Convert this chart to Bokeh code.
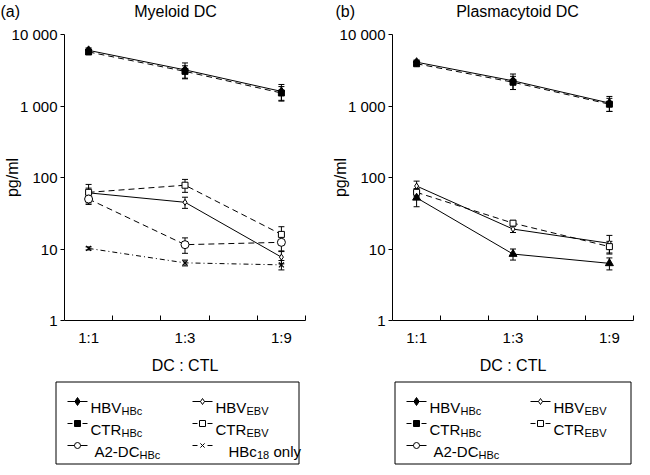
from bokeh.plotting import figure
from bokeh.models import Range1d, FixedTicker, Whisker, TeeHead, ColumnDataSource
from bokeh.layouts import row, column
from bokeh.embed import file_html
from bokeh.resources import INLINE
from bokeh.core.properties import value

FONT = "Liberation Sans"

# ---------------- data ----------------
ratios = ["1:1", "1:3", "1:9"]
y_ticks = [1, 10, 100, 1000, 10000]
y_tick_labels = ["1", "10", "100", "1 000", "10 000"]
panel_titles = ["Myeloid DC", "Plasmacytoid DC"]
panel_tags = ["(a)", "(b)"]

# (a) Myeloid DC
a_hbv_hbc = [6000, 3200, 1600]
a_hbv_hbc_err = [500, 800, 400]
a_ctr_hbc = [5700, 3050, 1520]
a_ctr_hbc_err = [400, 600, 350]
a_hbv_ebv = [61, 45, 7.7]
a_hbv_ebv_err = [10, 8, 1.5]
a_ctr_ebv = [62, 78, 16]
a_ctr_ebv_err = [18, 16, 4.5]
a_a2dc_hbc = [50, 11.5, 12.4]
a_a2dc_hbc_err = [8, 2.8, 3]
a_hbc18_only = [10.2, 6.4, 6.0]
a_hbc18_only_err = [0.5, 0.6, 0.9]

# (b) Plasmacytoid DC
b_hbv_hbc = [4100, 2250, 1100]
b_hbv_hbc_err = [300, 550, 260]
b_ctr_hbc = [3900, 2150, 1060]
b_ctr_hbc_err = [250, 450, 220]
b_hbv_ebv = [76, 19, 12]
b_hbv_ebv_err = [13, 2, 3.5]
b_ctr_ebv = [62, 23, 10.8]
b_ctr_ebv_err = [8, 2, 2]
b_a2dc_hbc = [52, 8.5, 6.3]
b_a2dc_hbc_err = [13, 1.5, 1.2]

# ---------------- styles ----------------
SOLID, DASH, DASHDOT = "solid", "6 4", "5 3 1 3"
xpos = [2 * i + 0.5 for i in range(len(ratios))]
minor = [1, 2, 3, 4, 5]

series_a = [
    (a_hbv_hbc, a_hbv_hbc_err, SOLID, "diamond", "black", 9),
    (a_ctr_hbc, a_ctr_hbc_err, DASH, "square", "black", 6),
    (a_hbv_ebv, a_hbv_ebv_err, SOLID, "diamond", "white", 6),
    (a_ctr_ebv, a_ctr_ebv_err, DASH, "square", "white", 6),
    (a_a2dc_hbc, a_a2dc_hbc_err, DASH, "circle", "white", 8),
    (a_hbc18_only, a_hbc18_only_err, DASHDOT, "x", "black", 7),
]
series_b = [
    (b_hbv_hbc, b_hbv_hbc_err, SOLID, "diamond", "black", 9),
    (b_ctr_hbc, b_ctr_hbc_err, DASH, "square", "black", 6),
    (b_hbv_ebv, b_hbv_ebv_err, SOLID, "diamond", "white", 6),
    (b_ctr_ebv, b_ctr_ebv_err, DASH, "square", "white", 6),
    (b_a2dc_hbc, b_a2dc_hbc_err, SOLID, "triangle", "black", 8),
]

TOTAL_W = 634
STRIP_H = 24
MAIN_H = 352
LEG_H = 90


def make_panel(series, width, bl, br):
    p = figure(width=width, height=MAIN_H, y_axis_type="log",
               x_range=Range1d(0, 5), y_range=Range1d(1, 10000),
               output_backend="svg", toolbar_location=None, title=None,
               min_border_left=bl, min_border_right=br,
               min_border_top=10, min_border_bottom=55)
    p.outline_line_color = None
    p.grid.visible = False

    xa = p.xaxis[0]
    xa.ticker = FixedTicker(ticks=xpos, minor_ticks=minor)
    xa.major_label_overrides = {x: r for x, r in zip(xpos, ratios)}
    xa.major_tick_in = 0
    xa.major_tick_out = 0
    xa.minor_tick_in = 5
    xa.minor_tick_out = 0
    xa.major_label_standoff = 8
    xa.major_label_text_font = FONT
    xa.major_label_text_font_size = "15px"
    xa.major_label_text_color = "black"
    xa.axis_label = "DC : CTL"
    xa.axis_label_standoff = 8
    xa.axis_label_text_font = FONT
    xa.axis_label_text_font_size = "16px"
    xa.axis_label_text_font_style = "normal"
    xa.axis_label_text_color = "black"
    xa.axis_line_color = "black"
    xa.minor_tick_line_color = "black"

    ya = p.yaxis[0]
    ya.ticker = FixedTicker(ticks=y_ticks, minor_ticks=[])
    ya.major_label_overrides = dict(zip(y_ticks, y_tick_labels))
    ya.major_tick_in = 0
    ya.major_tick_out = 4
    ya.minor_tick_in = 0
    ya.minor_tick_out = 0
    ya.major_label_standoff = 3
    ya.major_label_text_font = FONT
    ya.major_label_text_font_size = "15px"
    ya.major_label_text_color = "black"
    ya.axis_line_color = "black"
    ya.major_tick_line_color = "black"
    ya.axis_label = "pg/ml"
    ya.axis_label_standoff = -12
    ya.axis_label_text_font = FONT
    ya.axis_label_text_font_size = "16px"
    ya.axis_label_text_font_style = "normal"
    ya.axis_label_text_color = "black"

    for vals, errs, dash, marker, fill, size in series:
        src = ColumnDataSource(dict(base=xpos,
                                    upper=[v + e for v, e in zip(vals, errs)],
                                    lower=[v - e for v, e in zip(vals, errs)]))
        p.add_layout(Whisker(source=src, base="base", upper="upper", lower="lower",
                             line_color="black", line_width=1,
                             upper_head=TeeHead(size=6, line_color="black", line_width=1),
                             lower_head=TeeHead(size=6, line_color="black", line_width=1)))
    for vals, errs, dash, marker, fill, size in series:
        p.line(xpos, vals, line_color="black", line_width=1, line_dash=dash)
    for vals, errs, dash, marker, fill, size in series:
        p.scatter(xpos, vals, marker=marker, size=size, fill_color=fill,
                  line_color="black", line_width=1.2 if marker == "x" else 1)
    return p


def blank(width, height):
    f = figure(width=width, height=height, x_range=Range1d(0, width), y_range=Range1d(0, height),
               output_backend="svg", toolbar_location=None, title=None,
               x_axis_location=None, y_axis_location=None,
               min_border=0, min_border_left=0, min_border_right=0,
               min_border_top=0, min_border_bottom=0)
    f.outline_line_color = None
    f.grid.visible = False
    return f


# ---- top strip with panel tags and titles ----
strip = blank(TOTAL_W, STRIP_H)
strip.text([0, 335], [13, 13], text=panel_tags, text_font=value(FONT), text_font_size="16px",
           text_align="left", text_baseline="middle", text_color="black")
strip.text([175, 517], [13, 13], text=panel_titles, text_font=value(FONT), text_font_size="16px",
           text_align="center", text_baseline="middle", text_color="black")

p1 = make_panel(series_a, 314, 60, 9)
p2 = make_panel(series_b, 320, 78, 1)

# ---- legends ----
leg = blank(TOTAL_W, LEG_H)
leg.quad(left=[55.5, 394.5], right=[298.5, 630.5], bottom=[2.5, 2.5], top=[84.5, 84.5],
         fill_color=None, line_color="black", line_width=1)
rows_y = [65, 43, 21]
WMAIN = {"HBV": 31, "CTR": 31, "A2-DC": 45, "HBc": 28.5}

# (line x start, row, main text, subscript, tail, dashed, marker, fill, size, text x)
legend_items = [
    (67, 0, "HBV", "HBc", "", False, "diamond", "black", 8, 90),
    (192, 0, "HBV", "EBV", "", False, "diamond", "white", 6, 215),
    (67, 1, "CTR", "HBc", "", True, "square", "black", 6, 90),
    (192, 1, "CTR", "EBV", "", True, "square", "white", 6, 215),
    (67, 2, "A2-DC", "HBc", "", False, "circle", "white", 6, 94),
    (192, 2, "HBc", "18", "only", True, "x", "black", 6, 228),
    (406, 0, "HBV", "HBc", "", False, "diamond", "black", 8, 429),
    (530, 0, "HBV", "EBV", "", False, "diamond", "white", 6, 553),
    (406, 1, "CTR", "HBc", "", True, "square", "black", 6, 429),
    (530, 1, "CTR", "EBV", "", True, "square", "white", 6, 553),
    (406, 2, "A2-DC", "HBc", "", False, "circle", "white", 6, 433),
]
for (lx, r, main, sub, tail, dashed, marker, fill, size, tx) in legend_items:
    y = rows_y[r]
    if dashed:
        leg.segment(x0=[lx, lx + 15], y0=[y, y], x1=[lx + 5, lx + 20], y1=[y, y],
                    line_color="black", line_width=1)
    else:
        leg.segment(x0=[lx], y0=[y], x1=[lx + 20], y1=[y], line_color="black", line_width=1)
    leg.scatter([lx + 10], [y], marker=marker, size=size, fill_color=fill,
                line_color="black", line_width=1)
    leg.text([tx], [y - 5.5], text=[main], text_font=value(FONT), text_font_size="15px",
             text_baseline="alphabetic", text_align="left", text_color="black")
    leg.text([tx + WMAIN[main]], [y - 9], text=[sub], text_font=value(FONT),
             text_font_size="11px", text_baseline="alphabetic", text_align="left",
             text_color="black")
    if tail:
        leg.text([tx + WMAIN[main] + 16.5], [y - 5.5], text=[tail], text_font=value(FONT),
                 text_font_size="15px", text_baseline="alphabetic", text_align="left",
                 text_color="black")

layout = column(strip, row(p1, p2), leg)
open("out.html", "w").write(file_html(layout, INLINE))
